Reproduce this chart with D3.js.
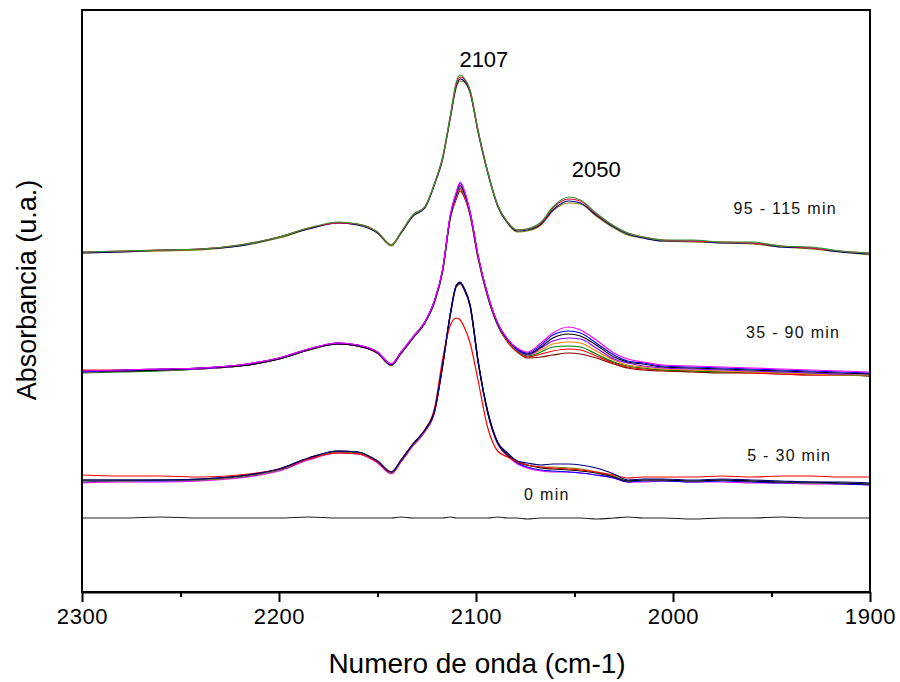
<!DOCTYPE html>
<html>
<head>
<meta charset="utf-8">
<script src="https://cdn.jsdelivr.net/npm/d3@7"></script>
<style>
  body { margin: 0; background: #fff; }
  svg { display: block; font-family: Arial, "Liberation Sans", sans-serif; }
</style>
</head>
<body>
<svg id="chart" width="900" height="682"></svg>
<script>
// wavenumber grid (cm-1), shared by every spectrum
const wavenumbers = [2300, 2280, 2260, 2240, 2220, 2200, 2185, 2170, 2160, 2150,
  2143, 2138, 2132, 2126, 2121, 2117, 2113, 2110, 2108, 2106,
  2103, 2099, 2094, 2089, 2084, 2079, 2074, 2067, 2061, 2053,
  2047, 2039, 2030, 2023, 2015, 2005, 1990, 1975, 1960, 1945,
  1930, 1915, 1900]

// absorbance (arbitrary units, stacked spectra)
const t0 = [74,74,75,74,74,74,75,74,74,74,74,75,74,74,74,74,75,74,74,74,74,74,74,75,74,74,73,74,74,74,74,73,74,75,74,74,73,74,74,75,74,74,74]

const t5_red = [117,116,116,115,117,123,133,139,138,130,120,132,148,162,184,232,267,274,272,265,249,212,164,141,135,130,127,125,124,123,122,120,117,114,115,115,115,116,115,116,116,115,115]
const t5_magenta = [109,110,110,111,114,121,132,139,138,129,118,130,146,160,180,225,277,305,308,302,286,231,179,148,136,128,124,121,120,120,119,117,114,110,110,111,110,110,109,109,108,108,107]
const t5_blue = [110,111,111,112,115,122,133,140,139,130,119,131,147,161,181,226,278,306,309,303,287,232,180,149,137,129,125,122,121,120,119,117,114,110,111,111,110,111,110,109,109,108,107]
const t5_black = [112,112,112,113,116,123,134,141,140,131,120,132,148,162,182,226,278,306,309,303,286,231,179,149,137,130,127,124,123,122,121,119,115,111,112,112,111,112,111,110,110,109,108]
const t5_olive = [111,111,112,112,115,122,133,140,139,130,119,131,147,161,181,226,278,305,308,303,286,231,179,149,138,130,127,125,125,124,123,120,116,111,112,112,111,112,111,110,109,109,108]
const t5_navy = [112,112,112,113,116,123,134,141,140,131,120,132,148,162,182,227,279,307,310,304,287,232,180,150,139,131,129,127,128,128,127,124,118,112,113,113,112,113,112,111,110,110,109]

const t35_maroon = [220,221,222,223,226,233,242,248,246,239,227,239,254,269,290,320,374,393,401,395,377,334,295,267,250,240,234,235,237,239,238,234,228,224,222,221,220,219,219,218,217,217,216]
const t35_red = [222,222,223,224,227,234,243,249,247,240,228,240,255,270,291,321,375,394,403,396,377,335,295,267,250,240,235,238,241,243,242,236,229,225,223,222,221,220,219,218,217,217,216]
const t35_green = [219,220,221,223,226,233,242,248,246,239,227,239,254,269,290,320,375,395,404,397,378,335,295,267,251,241,236,240,245,246,245,238,230,226,224,222,221,220,220,219,218,217,216]
const t35_orange = [220,221,222,223,226,233,242,248,246,239,227,239,254,269,291,320,375,396,405,398,378,335,296,268,251,242,237,242,248,250,249,241,232,227,225,223,222,221,220,219,218,217,217]
const t35_purple = [220,221,222,223,226,233,242,248,246,239,227,239,254,269,291,321,376,397,406,399,379,336,296,268,252,242,237,244,251,254,253,244,233,229,226,224,223,222,221,220,219,218,218]
const t35_black = [221,221,222,224,226,233,242,248,246,239,227,239,254,269,291,321,376,398,407,400,379,336,296,268,252,243,238,245,254,258,256,247,235,230,228,225,224,223,222,221,220,219,218]
const t35_blue = [220,222,223,224,227,234,243,249,247,240,228,240,255,270,292,322,377,399,409,401,380,337,297,269,253,243,239,247,257,261,259,249,237,231,229,226,225,224,223,222,221,220,219]
const t35_magenta = [221,222,223,224,227,234,243,249,247,240,228,240,255,270,292,322,378,400,410,402,380,337,297,269,253,244,240,249,259,265,262,252,239,233,230,227,226,225,224,223,222,221,220]

const t95_olive = [339,340,341,342,346,354,363,369,367,359,346,359,376,384,408,432,474,505,511,510,499,460,419,386,369,360,361,367,381,389,388,376,364,357,354,351,350,349,348,345,343,340,337]
const t95_navy = [339,340,342,343,346,355,363,369,367,359,347,359,376,384,408,433,475,506,513,511,500,461,419,386,369,361,362,368,382,391,389,377,365,358,354,351,351,349,349,345,344,340,338]
const t95_red = [340,341,342,343,347,355,364,369,368,360,347,360,377,385,409,434,476,508,515,513,501,462,420,387,370,362,363,369,384,393,391,378,366,359,355,352,351,350,349,346,344,341,339]
const t95_green = [340,341,342,343,347,355,364,370,368,360,347,360,377,385,409,434,477,510,517,514,502,462,420,387,370,362,363,370,385,395,392,379,366,359,355,352,352,350,350,346,345,341,339]

const xTicks = [2300, 2200, 2100, 2000, 1900]
const xMinorTicks = [2250, 2150, 2050, 1950]
const groupLabels = ['95 - 115 min', '35 - 90 min', '5 - 30 min', '0 min']
const peakLabels = ['2107', '2050']

// drawing order: bottom first
const spectra = [
  { values: t0, color: '#222222' },
  { values: t5_magenta, color: '#ff00ff' },
  { values: t5_blue, color: '#0000ff' },
  { values: t5_olive, color: '#808000' },
  { values: t5_black, color: '#000000' },
  { values: t5_red, color: '#ff0000' },
  { values: t5_navy, color: '#000080' },
  { values: t35_maroon, color: '#800000' },
  { values: t35_red, color: '#ff0000' },
  { values: t35_green, color: '#008000' },
  { values: t35_orange, color: '#ff8000' },
  { values: t35_purple, color: '#8000ff' },
  { values: t35_black, color: '#000000' },
  { values: t35_blue, color: '#0000ff' },
  { values: t35_magenta, color: '#ff00ff' },
  { values: t95_olive, color: '#808000' },
  { values: t95_navy, color: '#000080' },
  { values: t95_red, color: '#ff0040' },
  { values: t95_green, color: '#2e952e' }
]

const svg = d3.select('#chart')
const mLeft = 82, mRight = 870, mTop = 10, mBottom = 592

const x = d3.scaleLinear().domain([2300, 1900]).range([mLeft, mRight])
const y = d3.scaleLinear().domain([0, 582]).range([mBottom, mTop])

svg.append('clipPath').attr('id', 'plot-clip')
  .append('rect')
  .attr('x', mLeft).attr('y', mTop)
  .attr('width', mRight - mLeft).attr('height', mBottom - mTop)

// wavenumbers decrease left to right, so feed x in pixel order for the monotone curve
const line = d3.line()
  .x((d, i) => x(wavenumbers[i]))
  .y(d => y(d))
  .curve(d3.curveMonotoneX)

svg.append('g')
  .attr('clip-path', 'url(#plot-clip)')
  .selectAll('path')
  .data(spectra)
  .enter()
  .append('path')
  .attr('d', d => line(d.values))
  .attr('fill', 'none')
  .attr('stroke', d => d.color)
  .attr('stroke-width', 1.2)
  .attr('stroke-linejoin', 'round')

// frame
svg.append('rect')
  .attr('x', mLeft).attr('y', mTop)
  .attr('width', mRight - mLeft).attr('height', mBottom - mTop)
  .attr('fill', 'none')
  .attr('stroke', '#000')
  .attr('stroke-width', 2)

// x axis, major and minor ticks
const xAxis = svg.append('g')
  .attr('transform', `translate(0,${mBottom})`)
  .call(d3.axisBottom(x).tickValues(xTicks).tickSize(10).tickSizeOuter(0).tickPadding(6).tickFormat(d3.format('d')))
xAxis.select('.domain').attr('stroke-width', 2)
xAxis.selectAll('.tick line').attr('stroke-width', 2)
xAxis.selectAll('.tick text')
  .attr('font-size', '22px')
  .attr('font-family', 'Arial, "Liberation Sans", sans-serif')
  .attr('fill', '#000')
  .style('letter-spacing', '0.6px')

const xMinor = svg.append('g')
  .attr('transform', `translate(0,${mBottom})`)
  .call(d3.axisBottom(x).tickValues(xMinorTicks).tickSize(5).tickSizeOuter(0).tickFormat(''))
xMinor.select('.domain').remove()
xMinor.selectAll('.tick line').attr('stroke-width', 2)

// axis titles
svg.append('text')
  .attr('x', (mLeft + mRight) / 2 + 1)
  .attr('y', 673)
  .attr('text-anchor', 'middle')
  .attr('font-size', '28px')
  .text('Numero de onda (cm-1)')

svg.append('text')
  .attr('transform', 'translate(36,290) rotate(-90)')
  .attr('text-anchor', 'middle')
  .attr('font-size', '27px')
  .text('Absorbancia (u.a.)')

// peak annotations (placed in data coordinates)
const peakPos = [[2096, 525], [2039, 415]]
svg.selectAll('.peak')
  .data(peakLabels)
  .enter()
  .append('text')
  .attr('class', 'peak')
  .attr('x', (d, i) => x(peakPos[i][0]))
  .attr('y', (d, i) => y(peakPos[i][1]))
  .attr('text-anchor', 'middle')
  .attr('font-size', '22px')
  .text(d => d)

// group labels
const labelPos = [[1943, 378], [1939, 254], [1941, 131], [2064, 92]]
svg.selectAll('.grp')
  .data(groupLabels)
  .enter()
  .append('text')
  .attr('class', 'grp')
  .attr('x', (d, i) => x(labelPos[i][0]))
  .attr('y', (d, i) => y(labelPos[i][1]))
  .attr('text-anchor', 'middle')
  .attr('font-size', '16px')
  .style('letter-spacing', '1.3px')
  .attr('fill', '#111')
  .text(d => d)
</script>
</body>
</html>
